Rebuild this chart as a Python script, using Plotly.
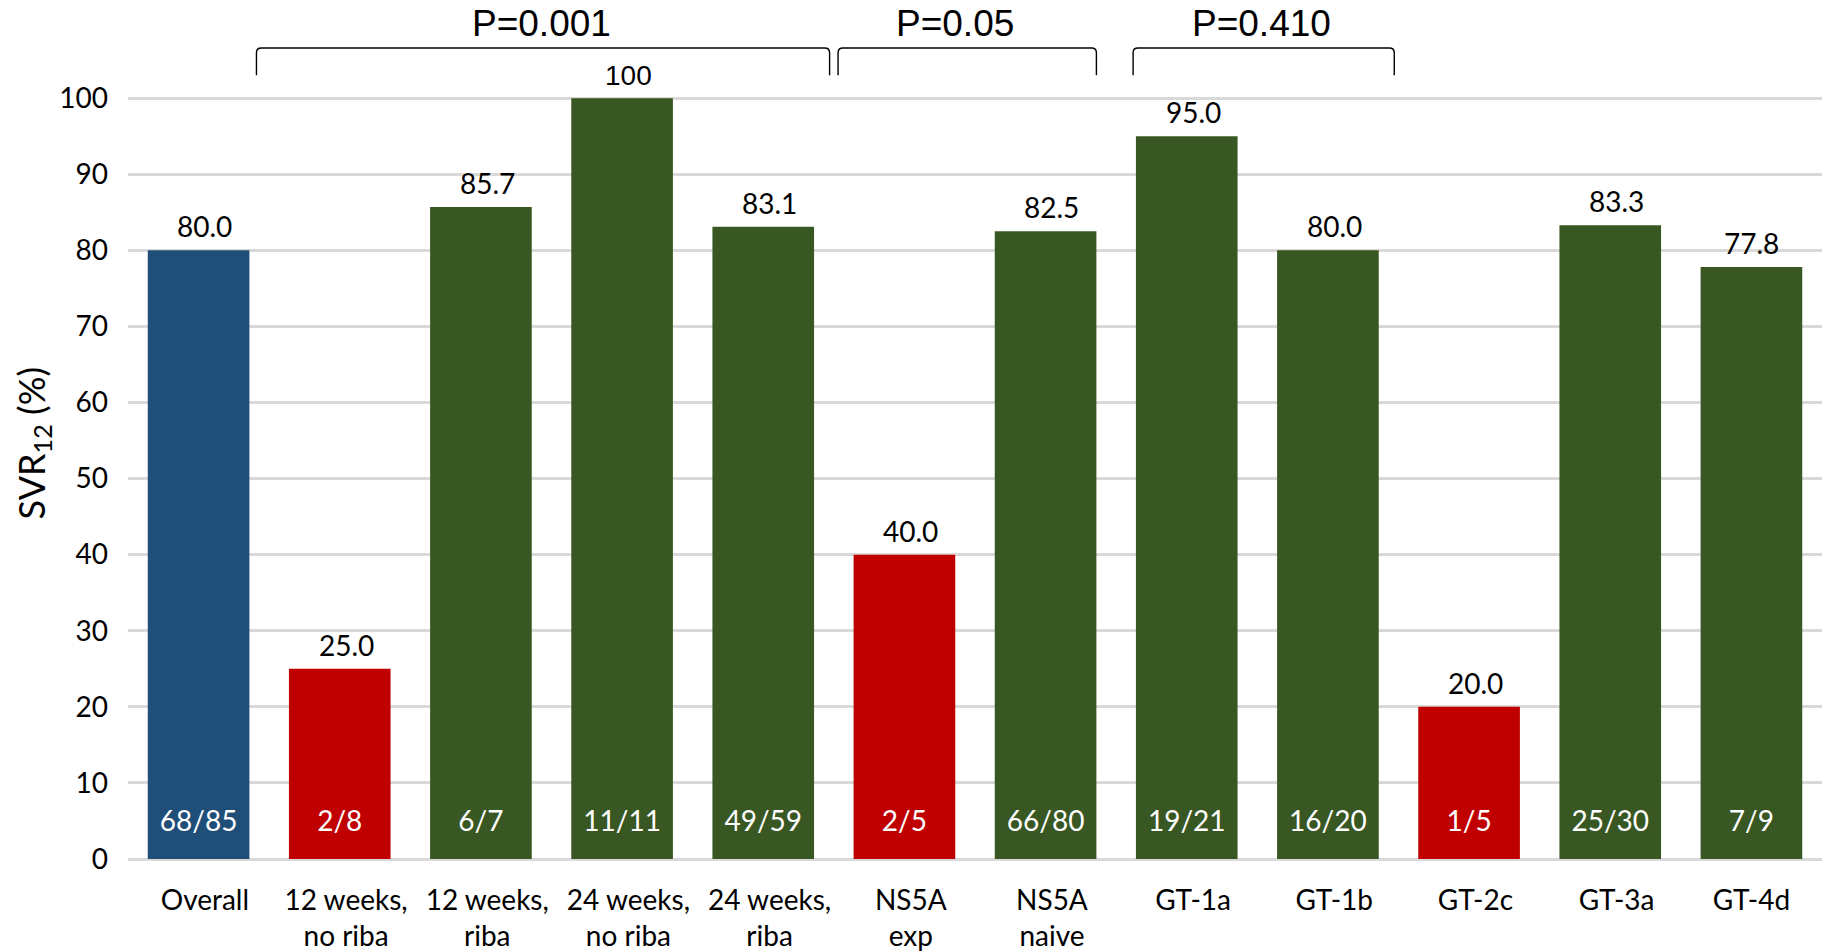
import plotly.graph_objects as go

# SVR12 rates by subgroup
categories = ["Overall", "12 weeks,<br>no riba", "12 weeks,<br>riba", "24 weeks,<br>no riba",
              "24 weeks,<br>riba", "NS5A<br>exp", "NS5A<br>naive", "GT-1a", "GT-1b",
              "GT-2c", "GT-3a", "GT-4d"]
svr12 = [80.0, 25.0, 85.7, 100, 83.1, 40.0, 82.5, 95.0, 80.0, 20.0, 83.3, 77.8]
value_labels = ["80.0", "25.0", "85.7", "100", "83.1", "40.0", "82.5", "95.0",
                "80.0", "20.0", "83.3", "77.8"]
responders = ["68/85", "2/8", "6/7", "11/11", "49/59", "2/5", "66/80", "19/21",
              "16/20", "1/5", "25/30", "7/9"]
groups = ["overall", "low", "high", "high", "high", "low", "high", "high", "high",
          "low", "high", "high"]

# p-values for the compared subgroups
p_values = ["P=0.001", "P=0.05", "P=0.410"]

# bracket extents along the category axis (in category units)
bracket_spans = [(0.41, 4.47), (4.53, 6.36), (6.62, 8.47)]
p_text_pos = [2.43, 5.36, 7.53]

palette = {"overall": "#1F4E79", "low": "#C00000", "high": "#385723"}
FONT = "Lato"
x = list(range(len(categories)))
n = len(x)
# outer labels sit a touch right of the bar centre, except at the right edge
label_nudge = [0.045] * (n - 1) + [0.0]

fig = go.Figure()
fig.add_trace(go.Bar(
    x=x, y=svr12, width=0.72,
    marker=dict(color=[palette[g] for g in groups], line=dict(width=0)),
    hoverinfo="skip",
))

# n/N counts inside the base of each bar
fig.add_trace(go.Scatter(
    x=x, y=[4.6] * n, mode="text", text=responders,
    textposition="middle center",
    textfont=dict(family=FONT, size=28, color="white"),
    hoverinfo="skip", cliponaxis=False,
))

annotations = []
for xi, v, lab, dx in zip(x, svr12, value_labels, label_nudge):
    fam = "Liberation Sans" if lab == "100" else FONT
    annotations.append(dict(
        x=xi + dx, y=v, xref="x", yref="y", text=lab, showarrow=False,
        yanchor="bottom", yshift=5, font=dict(family=fam, size=28, color="black"),
    ))

shapes = []
y_top, y_bot = 106.6, 103.0
rx, ry = 0.035, 0.6
for (x0, x1), ptxt, px in zip(bracket_spans, p_values, p_text_pos):
    path = (f"M {x0},{y_bot} L {x0},{y_top - ry} Q {x0},{y_top} {x0 + rx},{y_top} "
            f"L {x1 - rx},{y_top} Q {x1},{y_top} {x1},{y_top - ry} L {x1},{y_bot}")
    shapes.append(dict(type="path", path=path, xref="x", yref="y",
                       line=dict(color="#000000", width=1.4)))
    annotations.append(dict(
        x=px, y=109.8, xref="x", yref="y", text=ptxt, showarrow=False,
        yanchor="middle", font=dict(family="Liberation Sans", size=37, color="black"),
    ))

# y-axis title
annotations.append(dict(
    x=-0.056, y=0.484, xref="paper", yref="paper", text="SVR<sub>12</sub> (%)",
    textangle=-90, showarrow=False, xanchor="center", yanchor="middle",
    font=dict(family=FONT, size=36, color="black"),
))

fig.update_layout(
    width=1825, height=951,
    margin=dict(l=128, r=3, t=0, b=92),
    plot_bgcolor="white", paper_bgcolor="white",
    showlegend=False,
    annotations=annotations, shapes=shapes,
    xaxis=dict(
        range=[-0.5, n - 0.5], tickmode="array",
        tickvals=[xi + dx for xi, dx in zip(x, label_nudge)],
        ticktext=categories, showgrid=False, zeroline=False, showline=False,
        ticks="", ticklabelstandoff=22,
        tickfont=dict(family=FONT, size=28, color="black"),
        fixedrange=True,
    ),
    yaxis=dict(
        range=[0, 112.9], tickmode="array", tickvals=list(range(0, 101, 10)),
        showgrid=True, gridcolor="#D9D9D9", gridwidth=3,
        zeroline=True, zerolinecolor="#D9D9D9", zerolinewidth=3,
        showline=False, ticks="", ticklabelstandoff=19,
        tickfont=dict(family=FONT, size=28, color="black"),
        fixedrange=True,
    ),
)

fig.write_html("out.html")
